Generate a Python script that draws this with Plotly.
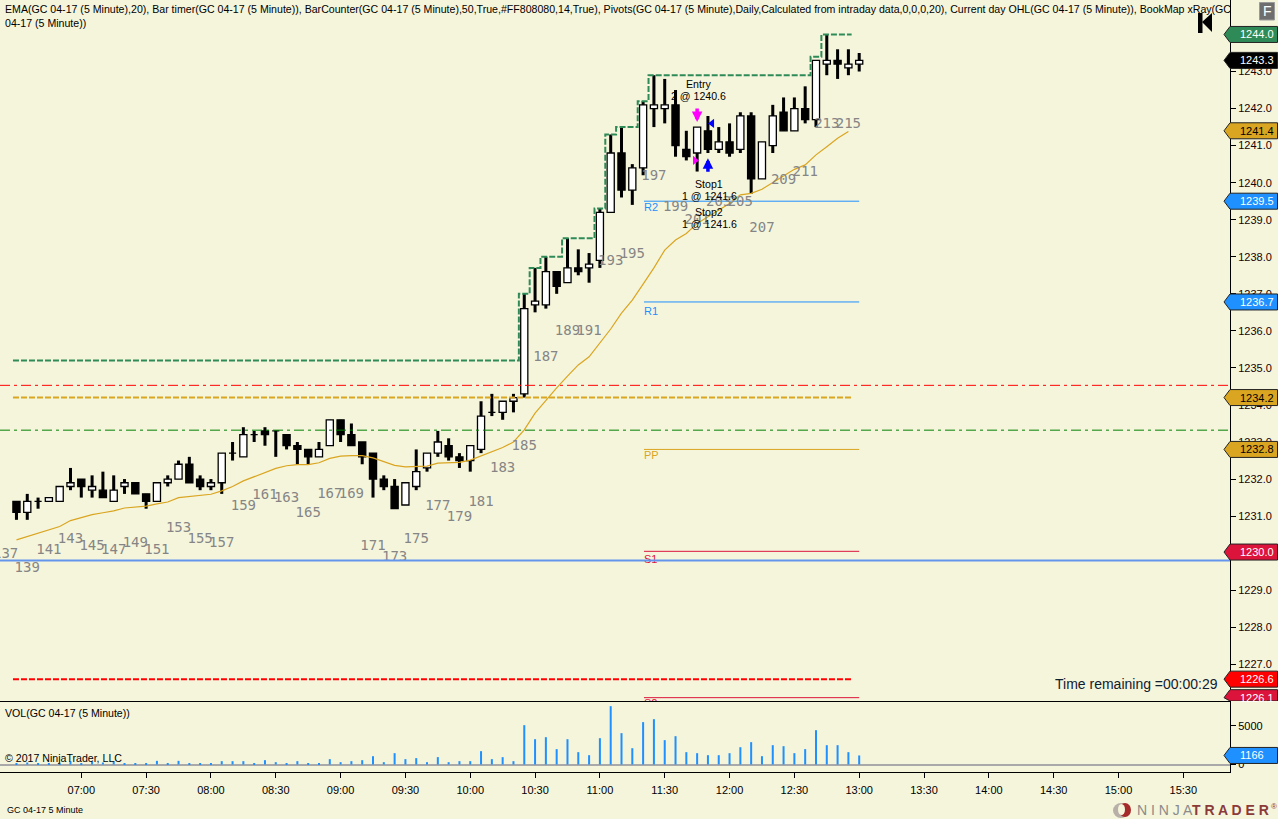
import plotly.graph_objects as go
from plotly.subplots import make_subplots

# 5 minute bars, 06:30 to 13:00, minutes since midnight
bar_minutes = [390 + 5 * i for i in range(79)]

opens = [1231.4, 1231.1, 1231.4, 1231.4, 1231.4, 1231.8, 1232.0, 1231.7, 1231.7, 1231.4,
         1231.8, 1231.9, 1231.6, 1231.4, 1231.9, 1232.0, 1232.4, 1232.0, 1231.8, 1231.9,
         1232.7, 1232.6, 1233.2, 1233.3, 1233.3, 1233.2, 1232.9, 1232.8, 1232.6, 1232.9,
         1233.6, 1233.2, 1233.0, 1232.7, 1232.0, 1231.8, 1231.3, 1231.8, 1232.3, 1232.7,
         1232.9, 1232.6, 1232.5, 1232.8, 1233.8, 1233.8, 1234.1, 1234.3, 1236.7, 1236.7,
         1237.6, 1237.3, 1237.7, 1237.7, 1237.9, 1239.2, 1240.8, 1239.8, 1240.4, 1242.0,
         1242.0, 1242.1, 1240.9, 1240.8, 1241.4, 1240.9, 1241.1, 1240.9, 1241.8, 1240.1,
         1241.0, 1241.9, 1241.4, 1242.0, 1241.7, 1243.2, 1243.3, 1243.1, 1243.2]
highs = [1231.4, 1231.6, 1231.5, 1231.5, 1231.8, 1232.3, 1232.0, 1232.1, 1232.2, 1232.1,
         1232.0, 1231.9, 1231.6, 1231.9, 1232.1, 1232.5, 1232.6, 1232.1, 1232.0, 1232.7,
         1233.0, 1233.4, 1233.3, 1233.4, 1233.3, 1233.2, 1233.0, 1232.8, 1233.0, 1233.6,
         1233.6, 1233.5, 1233.0, 1232.7, 1232.1, 1232.0, 1231.9, 1232.8, 1232.7, 1233.3,
         1233.1, 1232.7, 1232.9, 1234.1, 1234.3, 1234.1, 1234.3, 1237.0, 1237.7, 1238.0,
         1237.6, 1238.5, 1238.2, 1238.1, 1239.3, 1241.3, 1241.5, 1240.5, 1242.2, 1242.9,
         1242.8, 1242.5, 1241.4, 1241.5, 1241.8, 1241.5, 1241.6, 1241.9, 1241.9, 1241.1,
         1242.1, 1242.3, 1242.3, 1242.6, 1243.3, 1244.0, 1243.6, 1243.6, 1243.5]
lows = [1230.9, 1230.9, 1231.2, 1231.4, 1231.4, 1231.7, 1231.5, 1231.5, 1231.5, 1231.4,
        1231.6, 1231.6, 1231.2, 1231.4, 1231.8, 1232.0, 1231.9, 1231.7, 1231.7, 1231.6,
        1232.5, 1232.6, 1233.0, 1232.9, 1232.6, 1232.8, 1232.4, 1232.4, 1232.6, 1232.9,
        1233.0, 1232.9, 1232.4, 1231.5, 1231.7, 1231.2, 1231.3, 1231.7, 1232.2, 1232.6,
        1232.5, 1232.3, 1232.2, 1232.7, 1233.7, 1233.6, 1233.8, 1234.2, 1236.5, 1236.6,
        1237.0, 1237.3, 1237.5, 1237.3, 1237.7, 1239.2, 1239.6, 1239.4, 1240.2, 1241.5,
        1241.6, 1240.7, 1240.6, 1240.3, 1240.8, 1240.8, 1240.7, 1240.8, 1239.7, 1240.1,
        1240.8, 1241.4, 1241.4, 1241.6, 1241.5, 1242.9, 1242.8, 1242.9, 1243.0]
closes = [1231.1, 1231.4, 1231.4, 1231.5, 1231.8, 1231.9, 1231.8, 1231.8, 1231.5, 1231.7,
          1231.9, 1231.6, 1231.4, 1231.9, 1232.0, 1232.4, 1231.9, 1231.8, 1231.9, 1232.7,
          1232.7, 1233.2, 1233.2, 1233.2, 1233.3, 1232.9, 1232.8, 1232.6, 1232.8, 1233.6,
          1233.2, 1232.9, 1232.6, 1232.0, 1231.8, 1231.2, 1231.9, 1232.2, 1232.7, 1233.0,
          1232.6, 1232.5, 1232.9, 1233.7, 1233.8, 1234.1, 1234.2, 1236.6, 1236.8, 1237.6,
          1237.2, 1237.7, 1237.6, 1237.8, 1239.2, 1240.8, 1239.8, 1240.4, 1242.1, 1242.1,
          1242.1, 1241.0, 1240.7, 1241.5, 1240.9, 1241.1, 1240.8, 1241.8, 1240.1, 1241.1,
          1241.8, 1241.4, 1242.0, 1241.7, 1243.3, 1243.3, 1243.2, 1243.2, 1243.3]

# EMA stops one bar short of the bar still forming
ema = [1230.36, 1230.45, 1230.56, 1230.63, 1230.72, 1230.88, 1230.96, 1231.04, 1231.09, 1231.14,
       1231.22, 1231.25, 1231.27, 1231.33, 1231.38, 1231.50, 1231.53, 1231.55, 1231.59, 1231.68,
       1231.80, 1231.95, 1232.07, 1232.17, 1232.29, 1232.36, 1232.39, 1232.39, 1232.44, 1232.56,
       1232.62, 1232.63, 1232.63, 1232.57, 1232.46, 1232.37, 1232.33, 1232.33, 1232.35, 1232.43,
       1232.45, 1232.45, 1232.51, 1232.62, 1232.74, 1232.85, 1233.00, 1233.33, 1233.78, 1234.13,
       1234.46, 1234.78, 1235.08, 1235.30, 1235.67, 1236.05, 1236.48, 1236.83, 1237.26, 1237.70,
       1238.18, 1238.45, 1238.63, 1238.90, 1239.08, 1239.25, 1239.44, 1239.67, 1239.71, 1239.82,
       1240.00, 1240.19, 1240.36, 1240.48, 1240.75, 1240.97, 1241.20, 1241.38]

# current day high, one value per bar up to 12:55
day_high = [1235.2] * 47 + [1237.0, 1237.7, 1238.0, 1238.0, 1238.5, 1238.5, 1238.5, 1239.3, 1241.3,
                            1241.5, 1241.5, 1242.2, 1242.9, 1242.9, 1242.9, 1242.9, 1242.9, 1242.9,
                            1242.9, 1242.9, 1242.9, 1242.9, 1242.9, 1242.9, 1242.9, 1242.9, 1242.9,
                            1243.4, 1244.0, 1244.0, 1244.0]
day_open = 1234.2
day_low = 1226.6
red_level = 1234.53
green_level = 1233.32
blue_level = 1229.8

volumes = [100, 260, 100, 100, 215, 430, 170, 430, 260, 430,
           130, 170, 170, 470, 90, 470, 170, 170, 90, 430,
           430, 430, 170, 560, 300, 170, 430, 170, 170, 690,
           300, 430, 560, 1070, 300, 1460, 690, 820, 300, 950,
           300, 430, 430, 1720, 690, 945, 430, 5070, 3260, 3520,
           1980, 3260, 1590, 1200, 3390, 7520, 4040, 2100, 5460, 5840,
           3140, 3650, 1590, 1460, 1200, 1200, 1460, 2230, 2880, 1070,
           2490, 2360, 1460, 1980, 4420, 2490, 2490, 1590, 1166]

counter_labels = [str(n) for n in range(137, 216, 2)]
counter_minutes = [385 + 10 * i for i in range(len(counter_labels))]
counter_prices = [1229.97, 1229.58, 1230.08, 1230.36, 1230.17, 1230.08, 1230.25, 1230.08, 1230.66, 1230.36,
                  1230.27, 1231.26, 1231.57, 1231.48, 1231.06, 1231.58, 1231.58, 1230.17, 1229.88, 1230.36,
                  1231.25, 1230.97, 1231.37, 1232.28, 1232.88, 1235.29, 1235.97, 1235.97, 1237.88, 1238.05,
                  1240.16, 1239.34, 1238.99, 1239.46, 1239.46, 1238.77, 1240.06, 1240.27, 1241.57, 1241.57]

pivot_names = ["R2", "R1", "PP", "S1", "S2"]
pivot_prices = [1239.5, 1236.78, 1232.8, 1230.05, 1226.1]
pivot_colors = ["#1E90FF", "#1E90FF", "#DAA520", "#DC143C", "#DC143C"]
pivot_label_prices = [1239.31, 1236.51, 1232.61, 1229.81, 1225.91]
pivot_start = 680.4
pivot_end = 780

tag_prices = [1244.0, 1243.3, 1241.4, 1239.5, 1236.78, 1234.2, 1232.8, 1230.03, 1226.6, 1226.1]
tag_labels = ["1244.0", "1243.3", "1241.4", "1239.5", "1236.7", "1234.2", "1232.8", "1230.0", "1226.6", "1226.1"]
tag_fills = ["#2E8B57", "#000000", "#DAA520", "#1E90FF", "#1E90FF",
             "#DAA520", "#DAA520", "#DC143C", "#FF0000", "#DC143C"]
tag_inks = ["white", "white", "black", "white", "white", "black", "black", "white", "white", "white"]

x_tick_vals = list(range(420, 931, 30))
x_tick_text = ["07:00", "07:30", "08:00", "08:30", "09:00", "09:30", "10:00", "10:30", "11:00",
               "11:30", "12:00", "12:30", "13:00", "13:30", "14:00", "14:30", "15:00", "15:30"]
y_tick_vals = list(range(1227, 1244))
vol_tick_vals = [0, 5000]

header = ("EMA(GC 04-17 (5 Minute),20), Bar timer(GC 04-17 (5 Minute)), BarCounter(GC 04-17 (5 Minute),50,True,"
          "#FF808080,14,True), Pivots(GC 04-17 (5 Minute),Daily,Calculated from intraday data,0,0,0,20), "
          "Current day OHL(GC 04-17 (5 Minute)), BookMap xRay(GC<br>04-17 (5 Minute))")

W, H = 1278, 819
BG = "#F5F5DC"
SANS = "Liberation Sans"
PLOT_RIGHT = 1230
PRICE_BOTTOM = 1226.01
PX_PER_MIN = 2.161
PX_PER_PRICE = 37.06
PX_PER_VOL = 38.8 / 5000


def px(x):
    return x / W


def py(y):
    return 1 - y / H


fig = make_subplots(rows=2, cols=1, shared_xaxes=True, vertical_spacing=0)

# long horizontal levels
first_x = bar_minutes[0] - 3.5 / PX_PER_MIN
last_x = bar_minutes[-2] + 4.5 / PX_PER_MIN
x_left, x_right = 382.38, 951.6


def level(xs, price, color, width, dash):
    fig.add_trace(go.Scatter(x=xs, y=[price] * len(xs), mode="lines",
                             line=dict(color=color, width=width, dash=dash)), row=1, col=1)


level([x_left, x_right], red_level, "#FF0000", 1, "10px,4px,3px,4px")
level([x_left, x_right], green_level, "#008000", 1, "10px,4px,3px,4px")
level([first_x, last_x], day_open, "#DAA520", 2, "6px,2px")
level([first_x, last_x], day_low, "#FF0000", 2, "6px,2px")
for price, color in zip(pivot_prices, pivot_colors):
    level([pivot_start, pivot_end], price, color, 1, "solid")

# day high steps halfway between bars
hod_x = [first_x] + bar_minutes[1:77] + [bar_minutes[77] + 1.5]
fig.add_trace(go.Scatter(x=hod_x, y=day_high, mode="lines",
                         line=dict(color="#2E8B57", width=2, dash="6px,2px", shape="hvh")), row=1, col=1)

fig.add_trace(go.Scatter(x=bar_minutes[:78], y=ema, mode="lines",
                         line=dict(color="#DAA520", width=1.2)), row=1, col=1)

# candles: wick first, then the body on top
fig.add_trace(go.Bar(x=bar_minutes, base=lows, y=[h - l for h, l in zip(highs, lows)],
                     width=1.4, marker=dict(color="black", line=dict(width=0))), row=1, col=1)
fig.add_trace(go.Bar(x=bar_minutes, base=[min(o, c) for o, c in zip(opens, closes)],
                     y=[abs(o - c) for o, c in zip(opens, closes)], width=3.3,
                     marker=dict(color=["white" if c > o else "black" for o, c in zip(opens, closes)],
                                 line=dict(color="black", width=1.3))), row=1, col=1)

fig.add_trace(go.Scatter(x=counter_minutes, y=counter_prices, text=counter_labels, mode="text",
                         textfont=dict(family="DejaVu Sans Mono", size=14, color="#858585")), row=1, col=1)

fig.add_trace(go.Scatter(x=[pivot_start] * 5, y=pivot_label_prices, text=pivot_names, mode="text",
                         textposition="middle right",
                         textfont=dict(family=SANS, size=11, color=pivot_colors)), row=1, col=1)
level([x_left, x_right], blue_level, "#6495ED", 2, "solid")

# order markers
fig.add_trace(go.Scatter(x=[704.0, 711.9], y=[1240.6, 1241.6], mode="markers",
                         marker=dict(symbol=["triangle-right", "triangle-left"], size=8,
                                     color=["#FF00FF", "#0000FF"], line=dict(width=0))), row=1, col=1)

fig.add_trace(go.Bar(x=bar_minutes, y=volumes, width=0.93,
                     marker=dict(color="#1E90FF", line=dict(width=0))), row=2, col=1)

fig.update_layout(width=W, height=H, autosize=False, showlegend=False, barmode="overlay",
                  margin=dict(l=0, r=0, t=0, b=0), paper_bgcolor=BG, plot_bgcolor=BG,
                  hovermode=False, dragmode=False, font=dict(family=SANS, size=11, color="black"))

plot_frac = PLOT_RIGHT / W
fig.update_xaxes(domain=[0, plot_frac], range=[x_left, x_right], showgrid=False, zeroline=False,
                 showline=True, linecolor="black", linewidth=1)
fig.update_xaxes(showticklabels=False, ticks="", row=1, col=1)
fig.update_xaxes(tickmode="array", tickvals=x_tick_vals, ticktext=x_tick_text, ticks="outside", ticklen=5,
                 ticklabelstandoff=3, tickcolor="black", tickfont=dict(family=SANS, size=11, color="black"),
                 row=2, col=1)
fig.update_yaxes(domain=[py(701), 1], range=[PRICE_BOTTOM, 1244.93], side="right", showgrid=False,
                 zeroline=False, showline=True, linecolor="black", linewidth=1, tickmode="array",
                 tickvals=y_tick_vals, ticktext=[f"{v}.0" for v in y_tick_vals], ticks="outside", ticklen=5,
                 tickcolor="black", tickfont=dict(family=SANS, size=11, color="#200000"), row=1, col=1)
fig.update_yaxes(domain=[py(772), py(701)], range=[-966, 8183], side="right", showgrid=False,
                 zeroline=True, zerolinecolor="#A9A9A9", zerolinewidth=1.5, showline=True,
                 linecolor="black", linewidth=1, tickmode="array", tickvals=vol_tick_vals,
                 ticktext=[str(v) for v in vol_tick_vals], ticks="outside", ticklen=5,
                 tickcolor="black", tickfont=dict(family=SANS, size=11, color="black"), row=2, col=1)


def text_note(x, y, text, size=10.6, color="black", anchor="left", family=SANS):
    fig.add_annotation(x=px(x), y=py(y), xref="paper", yref="paper", text=text, showarrow=False,
                       xanchor=anchor, yanchor="middle", align="left", borderpad=0,
                       font=dict(family=family, size=size, color=color))


def price_tag(price, fill, ink, label, yref, half):
    top = price + half
    bottom = price - half
    if yref == "y":
        bottom = max(bottom, PRICE_BOTTOM)
    fig.add_shape(type="path", xref="paper", yref=yref, layer="above",
                  path=f"M {px(1224)} {price} L {px(1230)} {top} L {px(1277.5)} {top} "
                       f"L {px(1277.5)} {bottom} L {px(1230)} {bottom} Z",
                  fillcolor=fill, line=dict(color="#222222", width=1))
    fig.add_annotation(x=px(1239), y=price, xref="paper", yref=yref, text=label, showarrow=False,
                       xanchor="left", yanchor="middle", borderpad=0,
                       font=dict(family=SANS, size=11, color=ink))


for price, label, fill, ink in zip(tag_prices, tag_labels, tag_fills, tag_inks):
    price_tag(price, fill, ink, label, "y", 8 / PX_PER_PRICE)
price_tag(volumes[-1], "#1E90FF", "white", str(volumes[-1]), "y2", 8 / PX_PER_VOL)

fig.add_annotation(x=px(4), y=py(2), xref="paper", yref="paper", text=header, showarrow=False,
                   xanchor="left", yanchor="top", align="left", borderpad=0,
                   font=dict(family=SANS, size=10.6, color="black"))
text_note(1054, 684, "Time remaining =00:00:29", size=14, color="#102030")
text_note(4, 713, "VOL(GC 04-17 (5 Minute))")
text_note(4, 758, "© 2017 NinjaTrader, LLC")
text_note(6, 810, "GC 04-17 5 Minute", size=9)

# trade labels
text_note(698, 84, "Entry", anchor="center")
text_note(698, 96, "2 @ 1240.6", anchor="center")
text_note(709, 184, "Stop1", anchor="center")
text_note(709, 196, "1 @ 1241.6", anchor="center")
text_note(709, 212, "Stop2", anchor="center")
text_note(709, 224, "1 @ 1241.6", anchor="center")

# entry and stop arrows
fig.add_annotation(x=bar_minutes[63], y=1241.64, xref="x", yref="y", ax=0, ay=-15, text="", showarrow=True,
                   arrowhead=2, arrowsize=0.6, arrowwidth=3.5, arrowcolor="#FF00FF")
fig.add_annotation(x=bar_minutes[64], y=1240.66, xref="x", yref="y", ax=0, ay=15, text="", showarrow=True,
                   arrowhead=2, arrowsize=0.6, arrowwidth=3.5, arrowcolor="#0000FF")

# "back to now" button and F button in the top right corner
fig.add_shape(type="rect", xref="paper", yref="paper", layer="above", x0=px(1198), x1=px(1202.5),
              y0=py(33), y1=py(13), fillcolor="black", line=dict(width=0))
fig.add_shape(type="path", xref="paper", yref="paper", layer="above",
              path=f"M {px(1202)} {py(22)} L {px(1212)} {py(13)} L {px(1212)} {py(32)} Z",
              fillcolor="black", line=dict(width=0))
fig.add_shape(type="rect", xref="paper", yref="paper", layer="above", x0=px(1259.5), x1=px(1274.5),
              y0=py(20), y1=py(2.5), fillcolor="#6E6E6E", line=dict(color="#9A9A9A", width=1))
text_note(1267, 11.5, "F", size=14, color="white", anchor="center")

# logo at the bottom right
fig.add_shape(type="circle", xref="paper", yref="paper", layer="above", x0=px(1113), x1=px(1129),
              y0=py(818), y1=py(803), fillcolor="#B8B0A8", line=dict(width=0))
fig.add_shape(type="circle", xref="paper", yref="paper", layer="above", x0=px(1119), x1=px(1131),
              y0=py(817), y1=py(803), fillcolor="#A52A2A", line=dict(width=0))
fig.add_shape(type="circle", xref="paper", yref="paper", layer="above", x0=px(1118), x1=px(1125),
              y0=py(815), y1=py(804), fillcolor=BG, line=dict(width=0))
text_note(1136, 810, "N I N J A", size=14, color="#8A8A8A")
text_note(1191, 810, "<b>T R A D E R</b>", size=14, color="#8B3A3A")
text_note(1270, 806, "®", size=8, color="#8B3A3A")

fig.write_html("out.html", config=dict(displayModeBar=False), post_script="document.body.style.margin='0';")
